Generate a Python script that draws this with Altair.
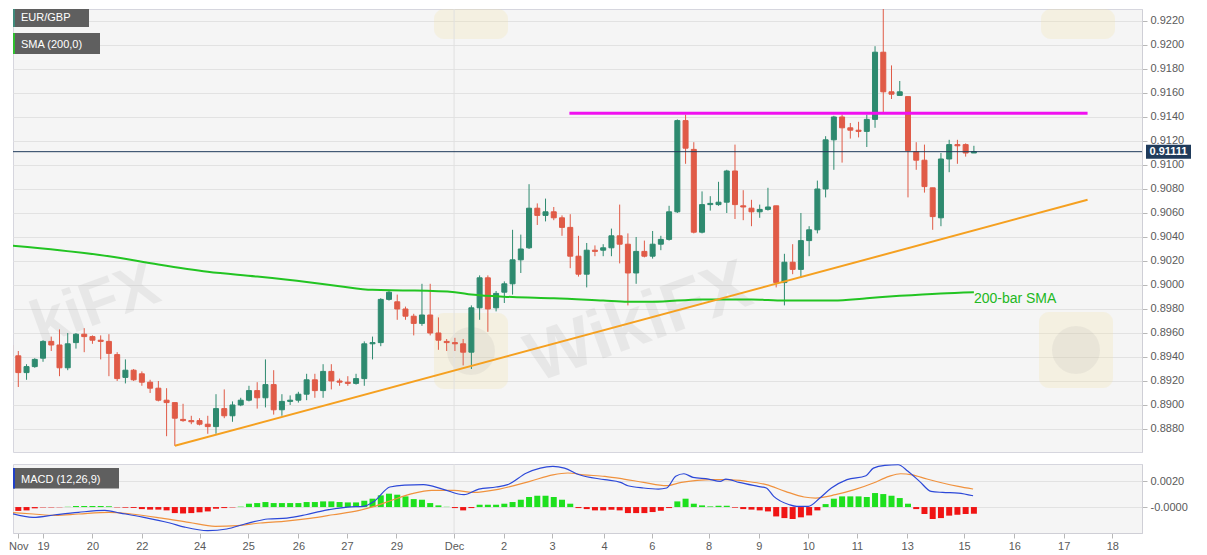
import altair as alt
import pandas as pd

# ---------------- price data (4H candles, bar index 0..117) ----------------
opens = [0.8950, 0.8941, 0.8927, 0.8932, 0.8939, 0.8953, 0.8950, 0.8931, 0.8952, 0.8959,
         0.8957, 0.8954, 0.8953, 0.8942, 0.8923, 0.8929, 0.8926, 0.8919, 0.8914, 0.8904,
         0.8902, 0.8888, 0.8887, 0.8887, 0.8884, 0.8882, 0.8897, 0.8891, 0.8900, 0.8904,
         0.8912, 0.8906, 0.8917, 0.8896, 0.8903, 0.8904, 0.8909, 0.8921, 0.8912, 0.8928,
         0.8920, 0.8919, 0.8918, 0.8922, 0.8951, 0.8952, 0.8988, 0.8986, 0.8980, 0.8974,
         0.8968, 0.8975, 0.8960, 0.8953, 0.8952, 0.8951, 0.8944, 0.8981, 0.9006, 0.8981,
         0.8994, 0.9001, 0.9021, 0.9031, 0.9064, 0.9058, 0.9061, 0.9056, 0.9048, 0.9024,
         0.9009, 0.9029, 0.9029, 0.9031, 0.9041, 0.9034, 0.9010, 0.9028, 0.9024, 0.9034,
         0.9038, 0.9061, 0.9137, 0.9113, 0.9044, 0.9067, 0.9067, 0.9069, 0.9095, 0.9066,
         0.9064, 0.9061, 0.9063, 0.9066, 0.9002, 0.9019, 0.9013, 0.9037, 0.9046, 0.9080,
         0.9121, 0.9140, 0.9131, 0.9129, 0.9128, 0.9138, 0.9194, 0.9161, 0.9158, 0.9157,
         0.9111, 0.9104, 0.9081, 0.9056, 0.9105, 0.9117, 0.9117, 0.9110]
highs = [0.8952, 0.8945, 0.8934, 0.8939, 0.8954, 0.8957, 0.8963, 0.8960, 0.8960, 0.8964,
         0.8958, 0.8958, 0.8959, 0.8944, 0.8938, 0.8930, 0.8928, 0.8921, 0.8920, 0.8914,
         0.8902, 0.8901, 0.8891, 0.8889, 0.8891, 0.8909, 0.8913, 0.8903, 0.8906, 0.8916,
         0.8919, 0.8938, 0.8929, 0.8909, 0.8908, 0.8911, 0.8926, 0.8926, 0.8934, 0.8934,
         0.8922, 0.8924, 0.8926, 0.8953, 0.8957, 0.8989, 0.8995, 0.8992, 0.8982, 0.8976,
         0.9001, 0.9001, 0.8973, 0.8955, 0.8956, 0.8955, 0.8983, 0.9008, 0.9008, 0.8995,
         0.9003, 0.9046, 0.9042, 0.9084, 0.9068, 0.9072, 0.9065, 0.9058, 0.9059, 0.9041,
         0.9035, 0.9033, 0.9034, 0.9047, 0.9067, 0.9043, 0.9040, 0.9037, 0.9045, 0.9041,
         0.9066, 0.9138, 0.9142, 0.9119, 0.9078, 0.9074, 0.9086, 0.9096, 0.9117, 0.9079,
         0.9071, 0.9067, 0.9081, 0.9066, 0.9026, 0.9034, 0.9060, 0.9049, 0.9087, 0.9124,
         0.9141, 0.9142, 0.9135, 0.9136, 0.9142, 0.9199, 0.9230, 0.9183, 0.9170, 0.9157,
         0.9119, 0.9117, 0.9081, 0.9110, 0.9121, 0.9121, 0.9118, 0.9116]
lows = [0.8939, 0.8915, 0.8921, 0.8931, 0.8936, 0.8945, 0.8924, 0.8929, 0.8947, 0.8944,
        0.8951, 0.8938, 0.8924, 0.8920, 0.8918, 0.8920, 0.8916, 0.8910, 0.8903, 0.8874,
        0.8866, 0.8886, 0.8884, 0.8883, 0.8876, 0.8876, 0.8889, 0.8886, 0.8899, 0.8903,
        0.8897, 0.8898, 0.8892, 0.8891, 0.8900, 0.8902, 0.8904, 0.8906, 0.8906, 0.8913,
        0.8916, 0.8916, 0.8917, 0.8916, 0.8938, 0.8949, 0.8987, 0.8971, 0.8971, 0.8958,
        0.8966, 0.8958, 0.8946, 0.8945, 0.8945, 0.8933, 0.8930, 0.8971, 0.8961, 0.8978,
        0.8985, 0.8992, 0.9010, 0.9030, 0.9050, 0.9053, 0.9054, 0.9041, 0.9014, 0.9007,
        0.8998, 0.9024, 0.9024, 0.9024, 0.9018, 0.8983, 0.9001, 0.9023, 0.9022, 0.9029,
        0.9037, 0.9060, 0.9101, 0.9043, 0.9043, 0.9062, 0.9066, 0.9060, 0.9055, 0.9054,
        0.9049, 0.9056, 0.9062, 0.8998, 0.8983, 0.9009, 0.9006, 0.9024, 0.9043, 0.9073,
        0.9096, 0.9102, 0.9122, 0.9123, 0.9115, 0.9131, 0.9144, 0.9155, 0.9158, 0.9073,
        0.9096, 0.9077, 0.9046, 0.9049, 0.9094, 0.9101, 0.9107, 0.9110]
closes = [0.8941, 0.8927, 0.8932, 0.8938, 0.8953, 0.8950, 0.8931, 0.8951, 0.8959, 0.8957,
          0.8954, 0.8953, 0.8943, 0.8922, 0.8929, 0.8921, 0.8919, 0.8914, 0.8904, 0.8902,
          0.8889, 0.8887, 0.8886, 0.8884, 0.8882, 0.8897, 0.8891, 0.8900, 0.8904, 0.8912,
          0.8906, 0.8917, 0.8896, 0.8903, 0.8904, 0.8909, 0.8921, 0.8912, 0.8928, 0.8920,
          0.8919, 0.8918, 0.8922, 0.8951, 0.8952, 0.8988, 0.8994, 0.8980, 0.8974, 0.8968,
          0.8975, 0.8960, 0.8954, 0.8952, 0.8951, 0.8944, 0.8981, 0.9006, 0.8980, 0.8993,
          0.9001, 0.9021, 0.9030, 0.9064, 0.9058, 0.9061, 0.9056, 0.9048, 0.9024, 0.9009,
          0.9029, 0.9028, 0.9031, 0.9041, 0.9034, 0.9010, 0.9028, 0.9024, 0.9034, 0.9038,
          0.9061, 0.9137, 0.9114, 0.9044, 0.9067, 0.9068, 0.9069, 0.9095, 0.9067, 0.9065,
          0.9061, 0.9063, 0.9065, 0.9002, 0.9019, 0.9013, 0.9037, 0.9046, 0.9080, 0.9121,
          0.9140, 0.9131, 0.9129, 0.9128, 0.9138, 0.9194, 0.9161, 0.9159, 0.9161, 0.9112,
          0.9104, 0.9082, 0.9057, 0.9105, 0.9117, 0.9116, 0.9110, 0.91111]

# 200-bar SMA (bar index, value)
sma_x = [0, 6, 12, 18, 24, 30, 36, 40, 44, 48, 54, 56, 61, 66, 72, 75, 78, 84, 90,
         94, 96, 100, 104, 108, 113, 117]
sma_v = [0.9033, 0.9029, 0.9024, 0.9017, 0.9011, 0.9007, 0.90025, 0.8999, 0.8996,
         0.89955, 0.8994, 0.8992, 0.8990, 0.8989, 0.8987, 0.8986, 0.8986, 0.8988,
         0.8988, 0.8987, 0.8987, 0.8987, 0.8989, 0.8991, 0.8993, 0.8994]

trend_x = [20, 130.8]
trend_v = [0.8866, 0.9071]
res_x = [67.9, 130.8]
res_v = [0.91431, 0.91431]
last_price = 0.91111
dec_pos = 53.9

y_ticks = [0.8880, 0.8900, 0.8920, 0.8940, 0.8960, 0.8980, 0.9000, 0.9020, 0.9040,
           0.9060, 0.9080, 0.9100, 0.9120, 0.9140, 0.9160, 0.9180, 0.9200, 0.9220]
x_tick_pos = [1.0, 4, 10, 16, 23, 28.9, 35, 40.9, 46.9, 53.9, 59.9, 65.8, 72.1, 77.9,
              84.8, 90.9, 96.9, 102.8, 108.9, 115.8, 121.9, 127.9, 133.8]
x_tick_lab = ["Nov", "19", "20", "22", "24", "25", "26", "27", "29", "Dec", "2", "3",
              "4", "6", "8", "9", "10", "11", "13", "15", "16", "17", "18"]
macd_ticks = [0.002, 0.0]

# ---------------- MACD data ----------------
hist_vals = [-0.0003, -0.0003, -0.00026, -0.0001, -0.00003, -0.00003, -0.00002, 0.00002,
             0.00008, 0.00008, 0.00008, 0.00008, 0.00006, -0.00003, -0.00005, -0.00007,
             -0.00016, -0.0002, -0.0002, -0.00026, -0.00047, -0.0005, -0.00047, -0.00041,
             -0.00034, -0.00013, -0.00008, -0.00003, 0.00003, 0.00026, 0.00031, 0.00039,
             0.00031, 0.00031, 0.00031, 0.00031, 0.00039, 0.00039, 0.00044, 0.00044,
             0.00039, 0.00036, 0.00036, 0.00049, 0.00065, 0.00091, 0.00104, 0.00096,
             0.00083, 0.00062, 0.00057, 0.00031, 0.00013, 0.00002, -0.00008, -0.00026,
             -0.00008, 0.00018, 0.00018, 0.00018, 0.00026, 0.00039, 0.00057, 0.00078,
             0.00088, 0.00088, 0.00078, 0.00057, 0.00026, -0.00008, -0.00016, -0.00026,
             -0.00026, -0.00021, -0.00026, -0.00047, -0.00047, -0.00047, -0.00039, -0.00029,
             -0.00008, 0.00044, 0.00065, 0.00026, 0.00013, 0.00005, 0.0001, 0.0001,
             -0.00005, -0.00016, -0.0002, -0.00026, -0.00034, -0.00073, -0.00086, -0.00093,
             -0.0008, -0.00065, -0.00026, 0.00023, 0.00065, 0.00083, 0.00083, 0.00083,
             0.00078, 0.00109, 0.00101, 0.00088, 0.0007, 0.00026, -0.00016, -0.00054,
             -0.00093, -0.00086, -0.00067, -0.0006, -0.00054, -0.00052]

macd_x = [0, 2.8, 5.5, 8.3, 11.5, 13.4, 16.1, 19.4, 21.2, 24, 26.3, 28.6, 31.3, 33.6,
          35.9, 38.2, 41, 42.9, 44.2, 46.1, 47.9, 50.2, 52.5, 55.1, 56.9, 59, 60.4, 62.7,
          65.9, 67.3, 69.1, 72.2, 74.1, 75, 76.9, 78.7, 79.7, 80.8, 81.8, 82.9, 84.8,
          86.2, 86.9, 88.5, 90.8, 91.8, 92.7, 94.6, 95.5, 96.9, 98.3, 99.7, 101.6, 103.9,
          104.8, 106.2, 107.8, 109, 110.4, 111.8, 113.2, 115.1, 116.9]
macd_v = [-0.00047, -0.0008, -0.0006, -0.00041, -0.00026, -0.00047, -0.00078, -0.00124,
          -0.00156, -0.00184, -0.00171, -0.0013, -0.00093, -0.00086, -0.0006, -0.00026,
          0.0, 0.00005, 0.00044, 0.00156, 0.00171, 0.00174, 0.0014, 0.00096, 0.0014,
          0.00156, 0.00174, 0.00265, 0.00317, 0.00303, 0.00251, 0.00213, 0.00192,
          0.00166, 0.00148, 0.0014, 0.00148, 0.00239, 0.00259, 0.00231, 0.00218, 0.002,
          0.00218, 0.00192, 0.00161, 0.00148, 0.00083, 0.00018, 0.00005, 0.00005,
          0.0007, 0.00148, 0.00213, 0.00244, 0.00303, 0.00324, 0.00329, 0.00278, 0.002,
          0.00122, 0.00114, 0.00109, 0.00088]
sig_x = [0, 2.8, 5.5, 8.3, 12, 14.7, 18.4, 21.7, 24.9, 27.6, 30.4, 33.2, 36.4, 39.2,
         42.4, 44.2, 46.5, 48.8, 51.2, 53.9, 56.2, 59.4, 63.1, 65.9, 67.7, 69.6, 72.2,
         74.5, 76.9, 79.7, 81.5, 83.4, 85.2, 87.1, 89.4, 91.8, 94.1, 96.4, 97.8, 100.2,
         102.5, 104.8, 106.7, 108.1, 109.5, 111.3, 113.2, 115.1, 116.9]
sig_v = [-0.00041, -0.00054, -0.00065, -0.00054, -0.00041, -0.00054, -0.00086, -0.00119,
         -0.0015, -0.00145, -0.00124, -0.00111, -0.00088, -0.0006, -0.00026, 0.00005,
         0.00057, 0.00104, 0.0013, 0.0013, 0.00114, 0.0014, 0.002, 0.00251, 0.00265,
         0.00251, 0.00239, 0.00218, 0.00192, 0.00166, 0.00192, 0.00207, 0.00213,
         0.00213, 0.002, 0.00174, 0.00122, 0.00078, 0.0007, 0.00096, 0.00135, 0.00187,
         0.00239, 0.00259, 0.00251, 0.00218, 0.00187, 0.00161, 0.0014]

# ---------------- tables ----------------
bars = list(range(len(opens)))
df = pd.DataFrame({"i": bars, "o": opens, "h": highs, "l": lows, "c": closes})
df["dir"] = ["up" if c >= o else "down" for o, c in zip(opens, closes)]
sma_df = pd.DataFrame({"i": sma_x, "v": sma_v})
trend_df = pd.DataFrame({"i": trend_x, "v": trend_v})
res_df = pd.DataFrame({"i": res_x, "v": res_v})
hist_df = pd.DataFrame({"i": bars, "v": hist_vals, "zero": [0.0] * len(bars)})
hist_df["sign"] = ["pos" if v >= 0 else "neg" for v in hist_vals]
macd_df = pd.DataFrame({"i": macd_x, "v": macd_v})
sig_df = pd.DataFrame({"i": sig_x, "v": sig_v})
price_df = pd.DataFrame({"p": [last_price], "t": [f"{last_price:.5f}"]})
dec_df = pd.DataFrame({"i": [dec_pos]})
sma_end_df = pd.DataFrame({"i": [sma_x[-1]], "v": [sma_v[-1]], "t": ["200-bar SMA"]})
one = pd.DataFrame({"a": [0]})

FONT = "Liberation Sans"
UP, DN = "#2e8a6f", "#e05b47"
# the visible window starts 8px (about one bar) in from the picture's left edge
xs = alt.Scale(domain=[0.963, 136.8], nice=False, zero=False)
ys = alt.Scale(domain=[0.886083, 0.9230], nice=False, zero=False)
ms = alt.Scale(domain=[-0.00202, 0.00335], nice=False, zero=False)
dir_scale = alt.Scale(domain=["up", "down"], range=[UP, DN])

AX = dict(title=None, domainColor="#cfcfd6", tickColor="#b8b8b8", tickSize=5,
          labelColor="#5a5a5a", labelFontSize=11, labelFont=FONT)
y_axis = alt.Axis(orient="right", values=y_ticks, format=".4f", grid=True,
                  gridColor="#e2e2e2", labelPadding=3, **AX)
m_axis = alt.Axis(orient="right", values=macd_ticks, grid=True, gridColor="#e2e2e2",
                  labelExpr="datum.value == 0 ? '-0.0000' : format(datum.value, '.4f')",
                  labelPadding=3, **AX)
label_expr = " : ".join(
    [f"datum.value == {p} ? '{l}'" for p, l in zip(x_tick_pos, x_tick_lab)]) + " : ''"
x_axis = alt.Axis(values=x_tick_pos, labelExpr=label_expr, grid=False, labelPadding=2,
                  labelFlush=5, labelOverlap=False, **AX)


def XM():
    return alt.X("i:Q", scale=xs, axis=None)


def YM(f):
    return alt.Y(f, scale=ys, axis=y_axis)


# ---------------- main panel ----------------
def logo(cx, y1, y2, circle):
    sq = alt.Chart(one).mark_rect(color="#f2e3a6", opacity=0.25, cornerRadius=10).encode(
        x=alt.value(cx - 37), x2=alt.value(cx + 37), y=alt.value(y1), y2=alt.value(y2))
    out = [sq]
    if circle:
        out.append(alt.Chart(one).mark_point(
            shape="circle", filled=True, size=2300, color="#9a9a9a", opacity=0.12).encode(
            x=alt.value(cx), y=alt.value((y1 + y2) / 2)))
    return out


logos = logo(458, 304, 380, True) + logo(1063, 303, 379, True) + \
    logo(458, 0, 30, False) + logo(1065, 0, 30, False)

wm1 = alt.Chart(one).mark_text(text="kiFX", font=FONT, fontSize=62, fontWeight="bold",
                               color="#8a8a8a", opacity=0.12, angle=340, clip=True).encode(
    x=alt.value(82), y=alt.value(296))
wm2 = alt.Chart(one).mark_text(text="WikiFX", font=FONT, fontSize=70, fontWeight="bold",
                               color="#8a8a8a", opacity=0.12, angle=340, clip=True).encode(
    x=alt.value(626), y=alt.value(314))

dec_rule = alt.Chart(dec_df).mark_rule(color="#e1e1e1", strokeWidth=1).encode(x=XM())

wicks = alt.Chart(df).mark_rule(strokeWidth=1, clip=True).encode(
    x=XM(), y=YM("l:Q"), y2="h:Q",
    color=alt.Color("dir:N", scale=dir_scale, legend=None))

bodies = alt.Chart(df).mark_bar(size=5, strokeWidth=1, clip=True).encode(
    x=XM(), y=YM("o:Q"), y2="c:Q",
    color=alt.Color("dir:N", scale=dir_scale, legend=None),
    stroke=alt.Stroke("dir:N", scale=dir_scale, legend=None))

sma_line = alt.Chart(sma_df).mark_line(color="#22c422", strokeWidth=2, clip=True,
                                       interpolate="monotone").encode(x=XM(), y=YM("v:Q"))
trend_line = alt.Chart(trend_df).mark_line(color="#f5a020", strokeWidth=2,
                                           clip=True).encode(x=XM(), y=YM("v:Q"))
res_line = alt.Chart(res_df).mark_line(color="#f010f0", strokeWidth=3,
                                       clip=True).encode(x=XM(), y=YM("v:Q"))

price_rule = alt.Chart(price_df).mark_rule(color="#1f3b5b", strokeWidth=1).encode(
    y=YM("p:Q"))
price_box = alt.Chart(price_df).mark_rect(
    color="#1f3b5b", stroke="#1f3b5b", strokeWidth=14).encode(
    x=alt.value(1133), x2=alt.value(1178), y=YM("p:Q"), y2="p:Q")
price_text = alt.Chart(price_df).mark_text(
    font=FONT, fontSize=11, fontWeight="bold", color="white",
    align="center", baseline="middle").encode(
    x=alt.value(1155.5), y=YM("p:Q"), text="t:N")

sma_label = alt.Chart(sma_end_df).mark_text(
    font=FONT, fontSize=14, color="#22b822", align="left",
    baseline="middle", dy=7).encode(x=XM(), y=YM("v:Q"), text="t:N")


def tag(label, x1, x2, y1, y2, stripe, tx, ty):
    box = alt.Chart(one).mark_rect(color="#5f5f5f").encode(
        x=alt.value(x1), x2=alt.value(x2), y=alt.value(y1), y2=alt.value(y2))
    bar = alt.Chart(one).mark_rect(color=stripe).encode(
        x=alt.value(x1), x2=alt.value(x1 + 2), y=alt.value(y1), y2=alt.value(y2))
    txt = alt.Chart(one).mark_text(text=label, font=FONT, fontSize=11, color="white",
                                   align="left", baseline="alphabetic").encode(
        x=alt.value(tx), y=alt.value(ty))
    return [box, bar, txt]


tags_main = tag("EUR/GBP", 0, 76, 0, 18, "#3f8a7c", 8, 12) + \
    tag("SMA (200,0)", 0, 87, 24, 45, "#2fbf2f", 8, 38.5)

main = alt.layer(*logos, wm1, wm2, dec_rule, wicks, bodies, sma_line, trend_line,
                 res_line, price_rule, price_box, price_text, sma_label,
                 *tags_main).properties(width=1129, height=443)

# ---------------- MACD panel ----------------


def XB():
    return alt.X("i:Q", scale=xs, axis=x_axis)


def YB(f):
    return alt.Y(f, scale=ms, axis=m_axis)


dec_rule2 = alt.Chart(dec_df).mark_rule(color="#e1e1e1", strokeWidth=1).encode(x=XB())

hist = alt.Chart(hist_df).mark_bar(size=6, clip=True).encode(
    x=XB(),
    y=alt.Y("v:Q", scale=ms, stack=None, axis=m_axis),
    y2="zero:Q",
    color=alt.Color("sign:N", scale=alt.Scale(domain=["pos", "neg"],
                                              range=["#1ee01e", "#f01414"]), legend=None))

sig_line = alt.Chart(sig_df).mark_line(color="#f0923e", strokeWidth=1.2, clip=True,
                                       interpolate="monotone").encode(x=XB(), y=YB("v:Q"))
macd_line = alt.Chart(macd_df).mark_line(color="#2c48d8", strokeWidth=1.2, clip=True,
                                         interpolate="monotone").encode(x=XB(), y=YB("v:Q"))

tags_macd = tag("MACD (12,26,9)", 0, 106, 4, 24.5, "#2040c8", 8, 19)

macd = alt.layer(dec_rule2, hist, sig_line, macd_line, *tags_macd).properties(
    width=1129, height=69)

chart = alt.vconcat(main, macd, spacing=10).properties(padding=0).resolve_scale(
    color="independent", stroke="independent"
).configure_view(fill="#f5f5f5", stroke="#d6d6de")

chart.save("out.html", embed_options={"renderer": "svg", "actions": False})
